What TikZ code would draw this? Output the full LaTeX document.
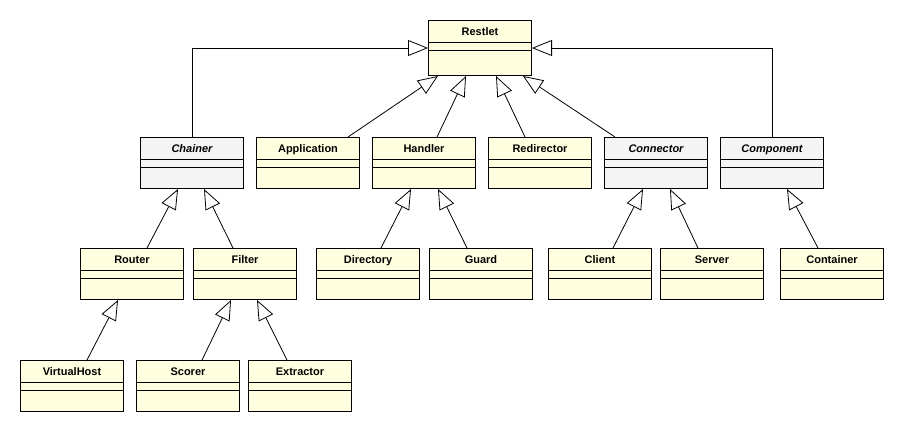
\documentclass[tikz,border=0pt]{standalone}
\usepackage{fontspec}
\setmainfont{Liberation Sans}
\usetikzlibrary{calc}
\usetikzlibrary{arrows.meta}
\definecolor{CREAM}{HTML}{FFFFE0}
\definecolor{GREY}{HTML}{F4F4F4}
\definecolor{BLACK}{HTML}{000000}
\tikzset{
    classbox/.style={draw=BLACK, line width=1pt, minimum width=103pt, inner sep=0pt, anchor=north west},
    classname/.style={font=\bfseries\fontsize{11}{13}\selectfont, inner sep=0pt, anchor=base},
    inherit/.style={draw=BLACK, line width=0.8pt, -{Triangle[open, length=20pt, width=16pt]}}
}
% #1 name, #2 x, #3 y, #4 height, #5 fill, #6 label
\newcommand{\umlclass}[6]{%
    \node[classbox, fill=#5, minimum height=#4pt] (#1) at (#2,#3) {};
    \draw[BLACK, line width=1pt] ($(#1.north west)+(0,22)$) -- ($(#1.north east)+(0,22)$);
    \draw[BLACK, line width=1pt] ($(#1.north west)+(0,30)$) -- ($(#1.north east)+(0,30)$);
    \node[classname] (#1-label) at ($(#1.north)+(0,15)$) {#6};
}
\begin{document}
\begin{tikzpicture}[x=1pt, y=-1pt]
    \fill[white] (0,0) rectangle (904,432);
    \useasboundingbox (0,0) rectangle (904,432);
    % classes
    \umlclass{restlet}{428}{20}{55}{CREAM}{Restlet}
    \umlclass{chainer}{140}{137}{51}{GREY}{\itshape Chainer}
    \umlclass{application}{256}{137}{51}{CREAM}{Application}
    \umlclass{handler}{372}{137}{51}{CREAM}{Handler}
    \umlclass{redirector}{488}{137}{51}{CREAM}{Redirector}
    \umlclass{connector}{604}{137}{51}{GREY}{\itshape Connector}
    \umlclass{component}{720}{137}{51}{GREY}{\itshape Component}
    \umlclass{router}{80}{248}{51}{CREAM}{Router}
    \umlclass{filter}{193}{248}{51}{CREAM}{Filter}
    \umlclass{directory}{316}{248}{51}{CREAM}{Directory}
    \umlclass{guard}{429}{248}{51}{CREAM}{Guard}
    \umlclass{client}{548}{248}{51}{CREAM}{Client}
    \umlclass{server}{660}{248}{51}{CREAM}{Server}
    \umlclass{container}{780}{248}{51}{CREAM}{Container}
    \umlclass{virtualhost}{20}{360}{51}{CREAM}{VirtualHost}
    \umlclass{scorer}{136}{360}{51}{CREAM}{Scorer}
    \umlclass{extractor}{248}{360}{51}{CREAM}{Extractor}
    % generalizations
    \draw[inherit] (chainer.north) |- ($(restlet.north west)+(0,28)$);
    \draw[inherit] (component.north) |- ($(restlet.north east)+(0,28)$);
    \draw[inherit] ($(application.north west)+(92,0)$) -- ($(restlet.south west)+(10,0)$);
    \draw[inherit] ($(handler.north west)+(65,0)$) -- ($(restlet.south west)+(38,0)$);
    \draw[inherit] ($(redirector.north west)+(37,0)$) -- ($(restlet.south west)+(68,0)$);
    \draw[inherit] ($(connector.north west)+(11,0)$) -- ($(restlet.south west)+(95,0)$);
    \draw[inherit] ($(router.north west)+(67,0)$) -- ($(chainer.south west)+(38,0)$);
    \draw[inherit] ($(filter.north west)+(40,0)$) -- ($(chainer.south west)+(64,0)$);
    \draw[inherit] ($(directory.north west)+(65,0)$) -- ($(handler.south west)+(39,0)$);
    \draw[inherit] ($(guard.north west)+(38,0)$) -- ($(handler.south west)+(66,0)$);
    \draw[inherit] ($(client.north west)+(65,0)$) -- ($(connector.south west)+(39,0)$);
    \draw[inherit] ($(server.north west)+(38,0)$) -- ($(connector.south west)+(66,0)$);
    \draw[inherit] ($(container.north west)+(38,0)$) -- ($(component.south west)+(67,0)$);
    \draw[inherit] ($(virtualhost.north west)+(67,0)$) -- ($(router.south west)+(38,0)$);
    \draw[inherit] ($(scorer.north west)+(66,0)$) -- ($(filter.south west)+(38,0)$);
    \draw[inherit] ($(extractor.north west)+(39,0)$) -- ($(filter.south west)+(64,0)$);
\end{tikzpicture}
\end{document}
